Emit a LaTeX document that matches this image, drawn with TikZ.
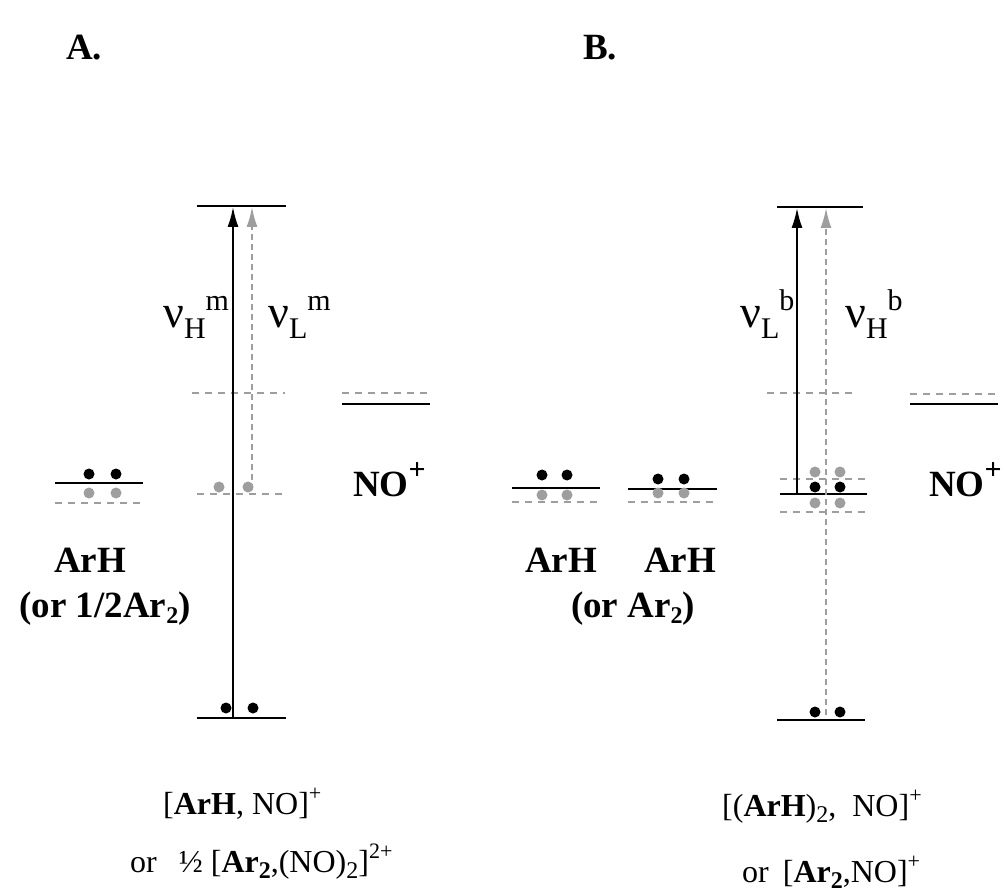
\documentclass[tikz,border=0pt]{standalone}
\usepackage{fontspec}
\setmainfont{Liberation Serif}
\usetikzlibrary{arrows.meta}
\definecolor{gcol}{gray}{0.62}
\newcommand\nulab[2]{{\fontsize{46}{46}\selectfont ν}\raisebox{-11pt}{\fontsize{30}{30}\selectfont #1}\raisebox{17pt}{\fontsize{30}{30}\selectfont #2}}
\newcommand\lsub[1]{\raisebox{-6pt}{\fontsize{24}{24}\selectfont #1}}
\newcommand\lsupr[1]{\raisebox{14pt}{\fontsize{22}{22}\selectfont #1}}
\newcommand\bplus{\raisebox{17pt}{\fontsize{30}{30}\selectfont\bfseries +}}
\begin{document}
\begin{tikzpicture}[x=1pt,y=-1pt,
  lvl/.style={line width=2.8pt},
  glvl/.style={gcol,line width=2.2pt,dash pattern=on 7pt off 6pt},
  edot/.style={circle,fill=black,inner sep=0pt,minimum size=11pt},
  gdot/.style={circle,fill=gcol,inner sep=0pt,minimum size=11pt},
  sarrow/.style={line width=1.8pt,-{Latex[length=20pt,width=11pt]}},
  garrow/.style={gcol,line width=1.8pt,dash pattern=on 6pt off 4pt,-{Latex[length=20pt,width=11pt]}},
  big/.style={font=\fontsize{37}{40}\selectfont\bfseries,inner sep=0pt},
  lab/.style={font=\fontsize{32}{36}\selectfont,inner sep=0pt},
  nu/.style={inner sep=0pt,anchor=base west}]
\useasboundingbox (0,0) rectangle (1004,896);
% ---------- titles
\node[big,anchor=base west] (tA) at (66,60) {A.};
\node[big,anchor=base west] (tB) at (583,60) {B.};
% ---------- panel A
\coordinate (At1) at (197,206); \coordinate (At2) at (286,206);
\coordinate (Ab1) at (197,718); \coordinate (Ab2) at (286,718);
\draw[lvl] (At1) -- (At2);
\draw[lvl] (Ab1) -- (Ab2);
\coordinate (Ad1) at (192,393); \coordinate (Ad2) at (285,393);
\coordinate (Ae1) at (197,494); \coordinate (Ae2) at (285,494);
\draw[glvl] (Ad1) -- (Ad2);
\draw[glvl] (Ae1) -- (Ae2);
\node[gdot] (Ag1) at (219,487) {};
\node[gdot] (Ag2) at (248,487) {};
\node[edot] (Abd1) at (226,708) {};
\node[edot] (Abd2) at (253,708) {};
\coordinate (Asb) at (233,718); \coordinate (Ast) at (233,207);
\coordinate (Agb) at (252,490); \coordinate (Agt) at (252,207);
\draw[sarrow] (Asb) -- (Ast);
\draw[garrow] (Agb) -- (Agt);
\node[nu] (nuHm) at (163,327) {\nulab{H}{m}};
\node[nu] (nuLm) at (268,327) {\nulab{L}{m}};
% ArH level A
\coordinate (Al1) at (55,483); \coordinate (Al2) at (143,483);
\coordinate (Alg1) at (55,503); \coordinate (Alg2) at (143,503);
\draw[lvl] (Al1) -- (Al2);
\draw[glvl] (Alg1) -- (Alg2);
\node[edot] (Ale1) at (89,474) {};
\node[edot] (Ale2) at (116,474) {};
\node[gdot] (Alh1) at (89,493) {};
\node[gdot] (Alh2) at (116,493) {};
\node[big,anchor=base] (ArHA) at (90,572) {ArH};
\node[big,anchor=base] (orA) at (105,617) {(or 1/2Ar\lsub{2})};
% NO+ A
\coordinate (An1) at (342,393); \coordinate (An2) at (430,393);
\coordinate (Am1) at (342,404); \coordinate (Am2) at (430,404);
\draw[glvl] (An1) -- (An2);
\draw[lvl] (Am1) -- (Am2);
\node[big,anchor=base west] (NOA) at (353,496) {NO\bplus};
% bottom labels A
\node[lab,anchor=base west] (fA1) at (163,814) {[\textbf{ArH}, NO]\lsupr{+}};
\node[lab,anchor=base west] (fA2) at (130,872) {or\hspace{22pt}½ [\textbf{Ar\lsub{2}},(NO)\lsub{2}]\lsupr{2+}};
% ---------- panel B
\coordinate (Bt1) at (777,207); \coordinate (Bt2) at (863,207);
\coordinate (Bb1) at (777,720); \coordinate (Bb2) at (865,720);
\draw[lvl] (Bt1) -- (Bt2);
\draw[lvl] (Bb1) -- (Bb2);
\coordinate (Bd1) at (767,393); \coordinate (Bd2) at (853,393);
\draw[glvl] (Bd1) -- (Bd2);
\coordinate (Bu1) at (780,479); \coordinate (Bu2) at (865,479);
\coordinate (Bw1) at (780,512); \coordinate (Bw2) at (865,512);
\draw[glvl] (Bu1) -- (Bu2);
\draw[glvl] (Bw1) -- (Bw2);
\coordinate (Bm1) at (780,494); \coordinate (Bm2) at (867,494);
\draw[lvl] (Bm1) -- (Bm2);
\node[gdot] (Bga1) at (815,472) {};
\node[gdot] (Bga2) at (840,472) {};
\node[gdot] (Bgb1) at (815,503) {};
\node[gdot] (Bgb2) at (840,503) {};
\node[edot] (Bme1) at (815,487) {};
\node[edot] (Bme2) at (840,487) {};
\node[edot] (Bbd1) at (815,712) {};
\node[edot] (Bbd2) at (840,712) {};
\coordinate (Bsb) at (797,494); \coordinate (Bst) at (797,208);
\coordinate (Bgb) at (826,715); \coordinate (Bgt) at (826,208);
\draw[sarrow] (Bsb) -- (Bst);
\draw[garrow] (Bgb) -- (Bgt);
\node[nu] (nuLb) at (740,327) {\nulab{L}{b}};
\node[nu] (nuHb) at (845,327) {\nulab{H}{b}};
% ArH levels B
\coordinate (Ba1) at (512,488); \coordinate (Ba2) at (600,488);
\coordinate (Bag1) at (512,502); \coordinate (Bag2) at (600,502);
\draw[lvl] (Ba1) -- (Ba2);
\draw[glvl] (Bag1) -- (Bag2);
\node[edot] (Bae1) at (542,475) {};
\node[edot] (Bae2) at (567,475) {};
\node[gdot] (Bah1) at (542,495) {};
\node[gdot] (Bah2) at (567,495) {};
\coordinate (Bc1) at (628,489); \coordinate (Bc2) at (717,489);
\coordinate (Bcg1) at (628,502); \coordinate (Bcg2) at (717,502);
\draw[lvl] (Bc1) -- (Bc2);
\draw[glvl] (Bcg1) -- (Bcg2);
\node[edot] (Bce1) at (658,479) {};
\node[edot] (Bce2) at (684,479) {};
\node[gdot] (Bch1) at (658,493) {};
\node[gdot] (Bch2) at (684,493) {};
\node[big,anchor=base] (ArHB1) at (561,572) {ArH};
\node[big,anchor=base] (ArHB2) at (680,572) {ArH};
\node[big,anchor=base] (orB) at (633,617) {(or Ar\lsub{2})};
% NO+ B
\coordinate (Bn1) at (910,394); \coordinate (Bn2) at (998,394);
\coordinate (Bo1) at (910,404); \coordinate (Bo2) at (998,404);
\draw[glvl] (Bn1) -- (Bn2);
\draw[lvl] (Bo1) -- (Bo2);
\node[big,anchor=base west] (NOB) at (929,496) {NO\bplus};
% bottom labels B
\node[lab,anchor=base west] (fB1) at (722,816) {[(\textbf{ArH})\lsub{2}, \ NO]\lsupr{+}};
\node[lab,anchor=base west] (fB2) at (742,882) {or\hspace{14pt}[\textbf{Ar\lsub{2}},NO]\lsupr{+}};
\end{tikzpicture}
\end{document}
